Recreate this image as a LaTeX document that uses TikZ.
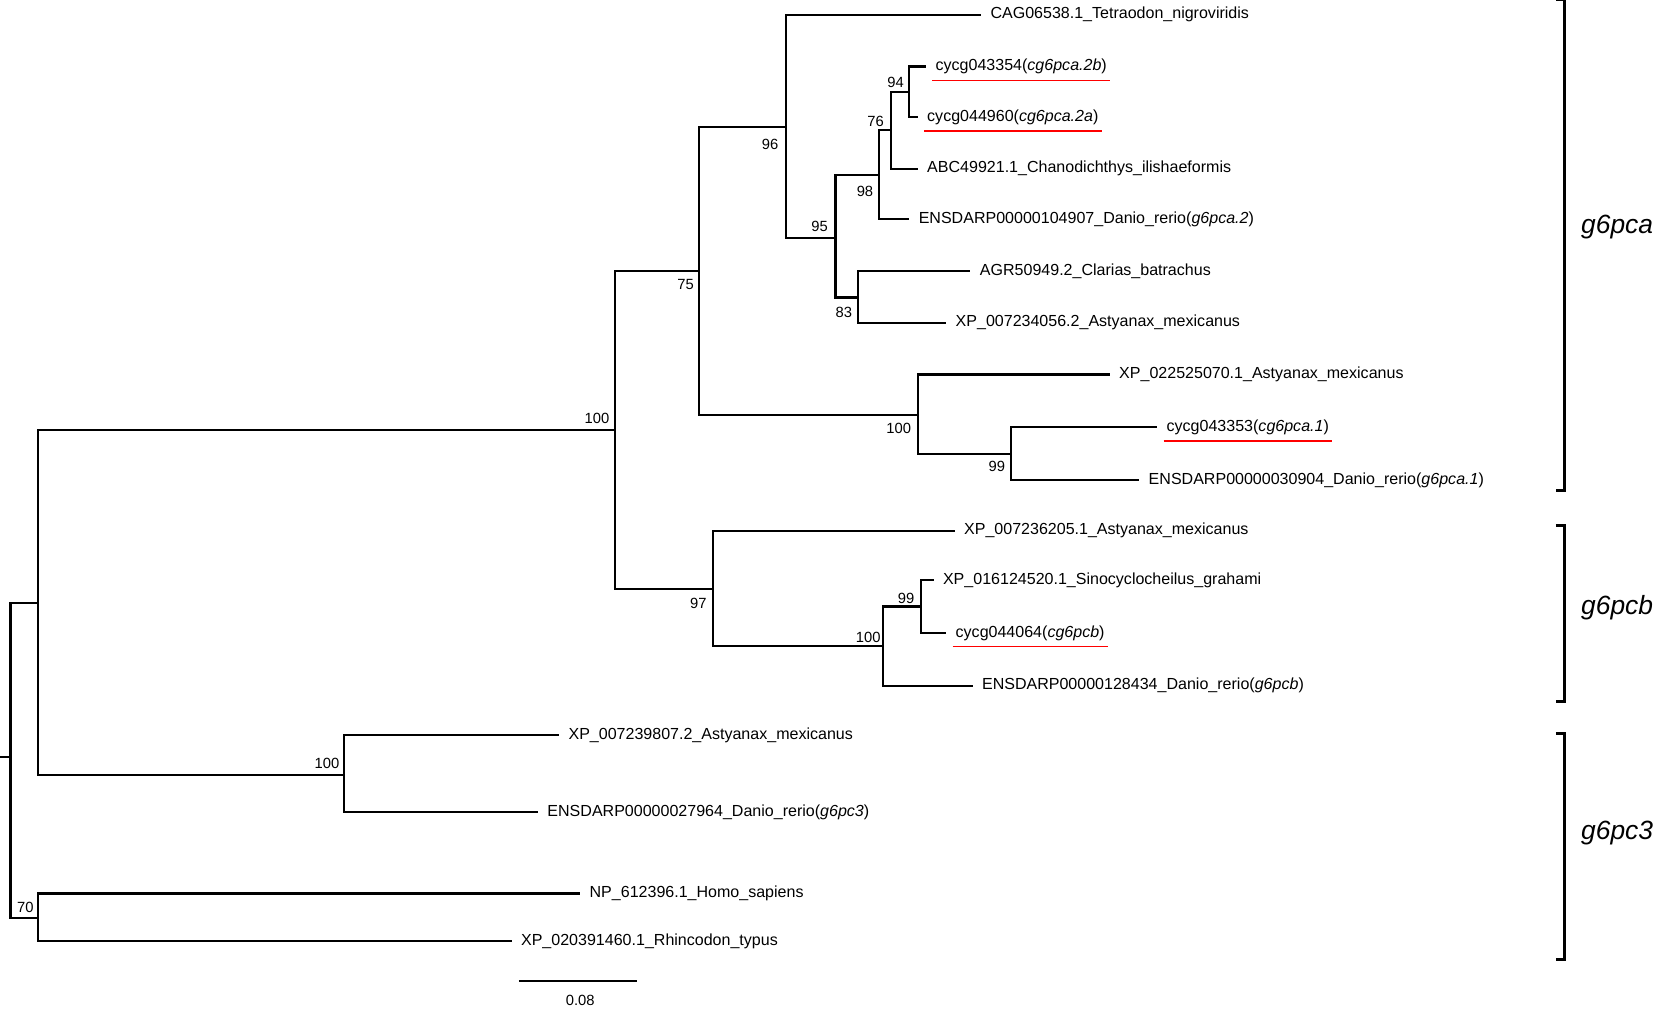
\documentclass[tikz,border=0pt]{standalone}
\usepackage{fontspec}
\setmainfont{Liberation Sans}
\begin{document}
\begin{tikzpicture}[x=1pt,y=-1pt,line width=2pt,
  leaf/.style={anchor=west,font=\fontsize{15.2}{17}\selectfont,inner sep=2pt,xshift=6pt},
  bs/.style={font=\fontsize{14}{16}\selectfont,inner sep=1pt},
  ul/.style={red,line width=1.4pt},
  br/.style={line width=2.8pt},
  clade/.style={font=\itshape\fontsize{25}{28}\selectfont}]
\useasboundingbox (0,0) rectangle (1568,958);
% internal nodes
\coordinate (s) at (0,718);
\coordinate (r) at (10,718);
\coordinate (A) at (36,572);
\coordinate (B) at (36,870);
\coordinate (C) at (583,408);
\coordinate (D) at (326,735);
\coordinate (E) at (663,257);
\coordinate (F) at (676,558);
\coordinate (G) at (745,120);
\coordinate (H) at (870,393);
\coordinate (I) at (792,226);
\coordinate (J) at (833,166);
\coordinate (K) at (813,282);
\coordinate (L) at (845,123);
\coordinate (P) at (862,87);
\coordinate (M) at (958,430);
\coordinate (N) at (837,612);
\coordinate (O) at (873,575);
% leaves
\coordinate (t1) at (930,14);
\coordinate (t2) at (878,63);
\coordinate (t3) at (870,111);
\coordinate (t4) at (870,160);
\coordinate (t5) at (862,208);
\coordinate (t6) at (920,257);
\coordinate (t7) at (897,306);
\coordinate (t8) at (1052,355);
\coordinate (t9) at (1097,405);
\coordinate (t10) at (1080,455);
\coordinate (t11) at (905,503);
\coordinate (t12) at (885,550);
\coordinate (t13) at (897,600);
\coordinate (t14) at (922,650);
\coordinate (t15) at (530,697);
\coordinate (t16) at (510,770);
\coordinate (t17) at (550,847);
\coordinate (t18) at (485,892);
% edges
\draw (s) -- (r);
\draw (r) |- (A); \draw (r) |- (B);
\draw (A) |- (C); \draw (A) |- (D);
\draw (B) |- (t17); \draw (B) |- (t18);
\draw (D) |- (t15); \draw (D) |- (t16);
\draw (C) |- (E); \draw (C) |- (F);
\draw (E) |- (G); \draw (E) |- (H);
\draw (G) |- (t1); \draw (G) |- (I);
\draw (I) |- (J); \draw (I) |- (K);
\draw (J) |- (L); \draw (J) |- (t5);
\draw (L) |- (P); \draw (L) |- (t4);
\draw (P) |- (t2); \draw (P) |- (t3);
\draw (K) |- (t6); \draw (K) |- (t7);
\draw (H) |- (t8); \draw (H) |- (M);
\draw (M) |- (t9); \draw (M) |- (t10);
\draw (F) |- (t11); \draw (F) |- (N);
\draw (N) |- (O); \draw (N) |- (t14);
\draw (O) |- (t12); \draw (O) |- (t13);
% leaf labels
\node[leaf] (n1) at (t1) {CAG06538.1\_Tetraodon\_nigroviridis};
\node[leaf] (n2) at (t2) {cycg043354(\textit{cg6pca.2b})};
\node[leaf] (n3) at (t3) {cycg044960(\textit{cg6pca.2a})};
\node[leaf] (n4) at (t4) {ABC49921.1\_Chanodichthys\_ilishaeformis};
\node[leaf] (n5) at (t5) {ENSDARP00000104907\_Danio\_rerio(\textit{g6pca.2})};
\node[leaf] (n6) at (t6) {AGR50949.2\_Clarias\_batrachus};
\node[leaf] (n7) at (t7) {XP\_007234056.2\_Astyanax\_mexicanus};
\node[leaf] (n8) at (t8) {XP\_022525070.1\_Astyanax\_mexicanus};
\node[leaf] (n9) at (t9) {cycg043353(\textit{cg6pca.1})};
\node[leaf] (n10) at (t10) {ENSDARP00000030904\_Danio\_rerio(\textit{g6pca.1})};
\node[leaf] (n11) at (t11) {XP\_007236205.1\_Astyanax\_mexicanus};
\node[leaf] (n12) at (t12) {XP\_016124520.1\_Sinocyclocheilus\_grahami};
\node[leaf] (n13) at (t13) {cycg044064(\textit{cg6pcb})};
\node[leaf] (n14) at (t14) {ENSDARP00000128434\_Danio\_rerio(\textit{g6pcb})};
\node[leaf] (n15) at (t15) {XP\_007239807.2\_Astyanax\_mexicanus};
\node[leaf] (n16) at (t16) {ENSDARP00000027964\_Danio\_rerio(\textit{g6pc3})};
\node[leaf] (n17) at (t17) {NP\_612396.1\_Homo\_sapiens};
\node[leaf] (n18) at (t18) {XP\_020391460.1\_Rhincodon\_typus};
% underlines
\foreach \n in {n2,n3,n9,n13}
  \draw[ul] ([yshift=-3pt]\n.south west) -- ([yshift=-3pt]\n.south east);
% bootstrap
\node[bs] (b1) at (730,137) {96};
\node[bs] (b2) at (566,397) {100};
\node[bs] (b3) at (650,270) {75};
\node[bs] (b4) at (777,215) {95};
\node[bs] (b5) at (800,296) {83};
\node[bs] (b6) at (820,181) {98};
\node[bs] (b7) at (830,115) {76};
\node[bs] (b8) at (849,78) {94};
\node[bs] (b9) at (852,406) {100};
\node[bs] (b10) at (945,442) {99};
\node[bs] (b11) at (662,572) {97};
\node[bs] (b12) at (823,604) {100};
\node[bs] (b13) at (859,567) {99};
\node[bs] (b14) at (310,724) {100};
\node[bs] (b15) at (24,860) {70};
% clade brackets
\draw[br] (1475,0) -- (1483,0) -- (1483,465) -- (1475,465);
\draw[br] (1475,498) -- (1483,498) -- (1483,665) -- (1475,665);
\draw[br] (1475,695) -- (1483,695) -- (1483,910) -- (1475,910);
\node[clade] (c1) at (1533,215) {g6pca};
\node[clade] (c2) at (1533,576) {g6pcb};
\node[clade] (c3) at (1533,790) {g6pc3};
% scale bar
\coordinate (sb1) at (492,930);
\coordinate (sb2) at (604,930);
\draw (sb1) -- (sb2);
\node[bs] (sbl) at (550,948) {0.08};
\end{tikzpicture}
\end{document}
